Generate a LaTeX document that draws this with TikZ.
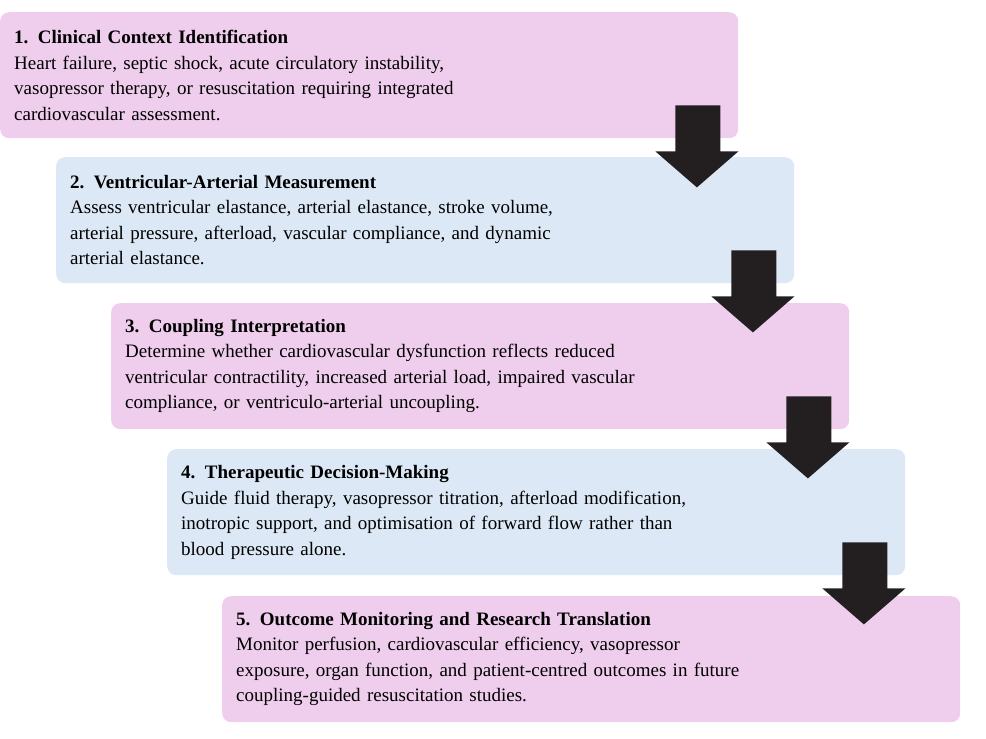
\documentclass[tikz,border=0pt]{standalone}
\usepackage{fontspec}
\setmainfont{Liberation Serif}
\usetikzlibrary{calc}

\definecolor{stepPink}{HTML}{EFCDEC}
\definecolor{stepBlue}{HTML}{DCE8F5}
\definecolor{arrowDark}{HTML}{231F20}

\tikzset{
	stage/.style={anchor=north west, rounded corners=9pt, minimum width=738pt,
		minimum height=126pt, text width=710pt, inner xsep=14pt, align=left,
		font=\fontsize{19}{25.5}\selectfont},
	down/.style={fill=arrowDark}
}

\begin{document}
\begin{tikzpicture}[x=1pt,y=-1pt]

	% ---- frame

	\useasboundingbox (0,0) rectangle (986,739);

	% ---- stages

	\node[stage, fill=stepPink] (box1) at (0,12) {\textbf{1. Clinical Context Identification}\\
		Heart failure, septic shock, acute circulatory instability,\\
		vasopressor therapy, or resuscitation requiring integrated\\
		cardiovascular assessment.};

	\node[stage, fill=stepBlue] (box2) at (56,157) {\textbf{2. Ventricular-Arterial Measurement}\\
		Assess ventricular elastance, arterial elastance, stroke volume,\\
		arterial pressure, afterload, vascular compliance, and dynamic\\
		arterial elastance.};

	\node[stage, fill=stepPink] (box3) at (111,303) {\textbf{3. Coupling Interpretation}\\
		Determine whether cardiovascular dysfunction reflects reduced\\
		ventricular contractility, increased arterial load, impaired vascular\\
		compliance, or ventriculo-arterial uncoupling.};

	\node[stage, fill=stepBlue] (box4) at (167,449) {\textbf{4. Therapeutic Decision-Making}\\
		Guide fluid therapy, vasopressor titration, afterload modification,\\
		inotropic support, and optimisation of forward flow rather than\\
		blood pressure alone.};

	\node[stage, fill=stepPink] (box5) at (222,596) {\textbf{5. Outcome Monitoring and Research Translation}\\
		Monitor perfusion, cardiovascular efficiency, vasopressor\\
		exposure, organ function, and patient-centred outcomes in future\\
		coupling-guided resuscitation studies.};

	% ---- block arrows

	\foreach \i in {1,...,4} {
		\coordinate (C\i) at (box\i.south east);
		\fill[down] ($(C\i)+(-63,-33)$) -- ($(C\i)+(-18,-33)$) -- ($(C\i)+(-18,13)$)
			-- ($(C\i)+(0,13)$) -- ($(C\i)+(-41.5,49)$) -- ($(C\i)+(-83,13)$)
			-- ($(C\i)+(-63,13)$) -- cycle;
	}

\end{tikzpicture}
\end{document}
